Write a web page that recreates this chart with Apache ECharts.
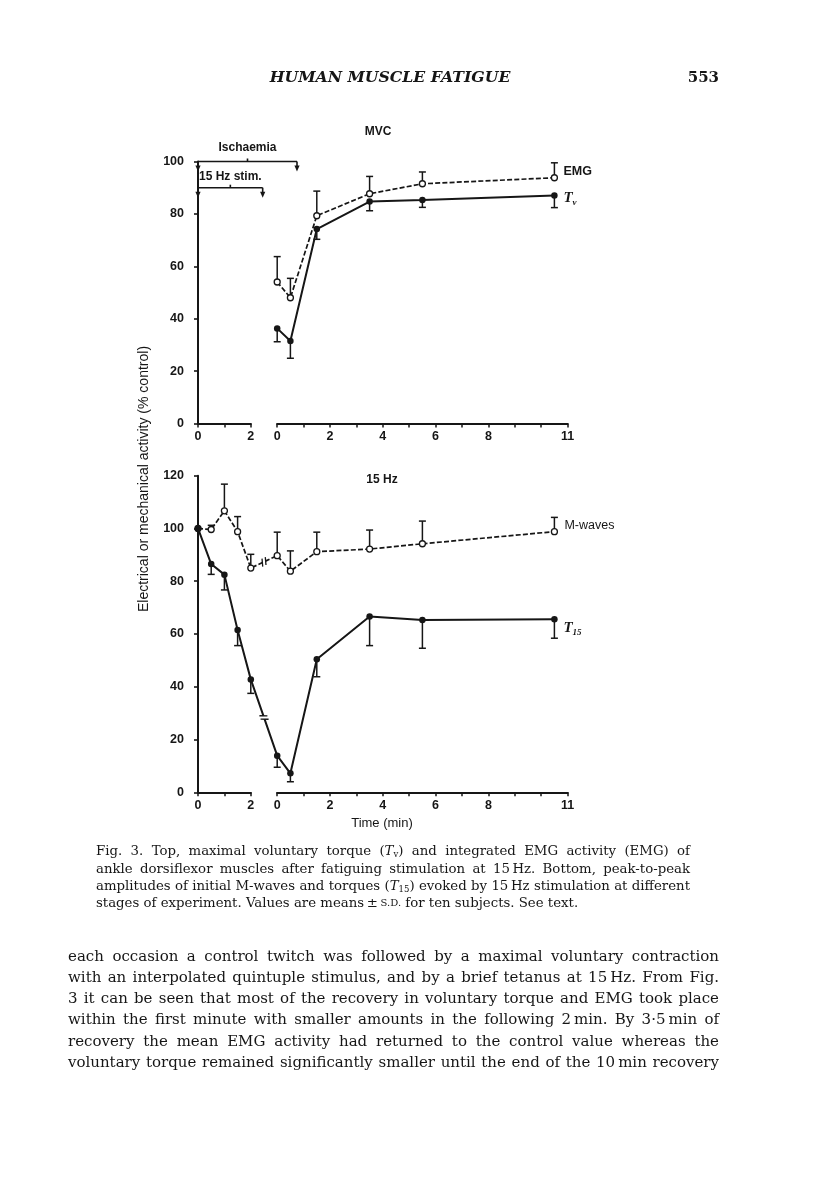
<!DOCTYPE html>
<html lang="en">
<head>
  <meta charset="UTF-8">
  <title>Human muscle fatigue - Fig. 3</title>
  <script src="https://cdn.jsdelivr.net/npm/echarts@6/dist/echarts.min.js"></script>
  <style>
    html, body { margin: 0; padding: 0; background: #fff; }
    #chart { width: 816px; height: 1183px; }
  </style>
</head>
<body>
  <div id="chart"></div>
  <script>
    // time points (min)
    const fatigueTimes = [0, 0.5, 1, 1.5, 2];
    const recoveryTimes = [0, 0.5, 1.5, 3.5, 5.5, 10.5];

    // top panel (MVC): means and the drawn end of each s.d. bar
    const emgMean = [54, 48, 79.3, 87.7, 91.5, 93.8];
    const emgUpper = [63.7, 55.4, 88.7, 94.3, 96, 99.5];
    const tvMean = [36.3, 31.5, 74.2, 84.7, 85.3, 87];
    const tvLower = [31.2, 24.9, 70.3, 81.2, 82.5, 82.4];

    // bottom panel (15 Hz)
    const mwaveFatigue = [100, 99.6, 106.7, 98.8, 85];
    const mwaveFatigueUpper = [null, 101.2, 116.8, 104.5, 90.2];
    const mwaveRecovery = [89.7, 83.8, 91.2, 92.2, 94.2, 98.8];
    const mwaveRecoveryUpper = [98.6, 91.5, 98.6, 99.4, 102.8, 104.2];
    const t15Fatigue = [100, 86.5, 82.5, 61.5, 42.8];
    const t15FatigueLower = [null, 82.6, 76.7, 55.6, 37.5];
    const t15Recovery = [13.9, 7.2, 50.4, 66.6, 65.3, 65.6];
    const t15RecoveryLower = [9.5, 4, 43.8, 55.6, 54.6, 58.4];

    // tick labels
    const fatigueTickLabels = [0, 2];
    const recoveryTickLabels = [0, 2, 4, 6, 8, 11];
    const mvcMax = 100;
    const hzMax = 120;

    // bars above the top panel: [start, end] in plot minutes
    const ischaemiaSpan = [0, 3.75];
    const stimSpan = [0, 2.45];

    const captionLines = [
      'Fig. 3. Top, maximal voluntary torque ({i|T}{sub|v}) and integrated EMG activity (EMG) of',
      'ankle dorsiflexor muscles after fatiguing stimulation at 15\u2009Hz. Bottom, peak-to-peak',
      'amplitudes of initial M-waves and torques ({i|T}{sub|15}) evoked by 15\u2009Hz stimulation at different',
      'stages of experiment. Values are means\u2009\u00b1\u2009{sc|S.D.} for ten subjects. See text.'
    ];
    const bodyLines = [
      'each occasion a control twitch was followed by a maximal voluntary contraction',
      'with an interpolated quintuple stimulus, and by a brief tetanus at 15\u2009Hz. From Fig.',
      '3 it can be seen that most of the recovery in voluntary torque and EMG took place',
      'within the first minute with smaller amounts in the following 2\u2009min. By 3\u00b75\u2009min of',
      'recovery the mean EMG activity had returned to the control value whereas the',
      'voluntary torque remained significantly smaller until the end of the 10\u2009min recovery'
    ];

    const INK = '#161616';
    const REC0 = 3;      // recovery minute 0 sits 3 plot minutes after fatigue start
    const SPAN = 14;     // plot minutes across the panel
    const PPM = 26.4;    // pixels per minute
    const LEFT = 198;

    const panels = [
      { top: 161.5, height: 262, max: mvcMax },
      { top: 475.7, height: 316.6, max: hzMax }
    ];

    const tickFont = { fontFamily: 'Liberation Sans', fontWeight: 'bold', fontSize: 12.5, color: INK };

    const grids = [], xAxes = [], yAxes = [];
    panels.forEach(p => {
      const g = grids.length;
      grids.push({ left: LEFT, top: p.top, width: SPAN * PPM, height: p.height });
      grids.push({ left: LEFT, top: p.top, width: 2 * PPM, height: p.height });
      grids.push({ left: LEFT + REC0 * PPM, top: p.top, width: 11 * PPM, height: p.height });
      xAxes.push({ type: 'value', gridIndex: g, min: 0, max: SPAN, show: false });
      xAxes.push(visibleX(g + 1, 2, fatigueTickLabels));
      xAxes.push(visibleX(g + 2, 11, recoveryTickLabels));
      yAxes.push({
        type: 'value', gridIndex: g, min: 0, max: p.max, interval: 20, offset: 8,
        axisLine: { show: true, lineStyle: { color: INK, width: 2 } },
        axisTick: { show: true, length: 4, lineStyle: { color: INK, width: 1.6 } },
        axisLabel: Object.assign({ margin: 6 }, tickFont),
        splitLine: { show: false }
      });
      yAxes.push({ type: 'value', gridIndex: g + 1, min: 0, max: p.max, show: false });
      yAxes.push({ type: 'value', gridIndex: g + 2, min: 0, max: p.max, show: false });
    });

    function visibleX(gridIndex, max, labels) {
      return {
        type: 'value', gridIndex, min: 0, max, interval: 1,
        axisLine: { show: true, lineStyle: { color: INK, width: 2 } },
        axisTick: { show: true, length: 4, lineStyle: { color: INK, width: 1.5 } },
        axisLabel: Object.assign({
          margin: 7, showMinLabel: true, showMaxLabel: true,
          formatter: v => labels.includes(v) ? String(v) : ''
        }, tickFont),
        splitLine: { show: false }
      };
    }

    const pairs = (times, vals, shift) => times.map((t, i) => [t + shift, vals[i]]);
    const bars = (times, vals, ends, shift) =>
      times.map((t, i) => [t + shift, vals[i], ends[i]]).filter(d => d[2] != null);

    function lineSeries(name, axis, data, open) {
      return {
        type: 'line', name, xAxisIndex: axis, yAxisIndex: axis, data, z: 3,
        symbol: 'circle', symbolSize: open ? 6 : 6.5,
        itemStyle: open ? { color: '#fff', borderColor: INK, borderWidth: 1.3 } : { color: INK },
        lineStyle: open ? { color: INK, width: 1.7, type: [5, 2.2] } : { color: INK, width: 2 },
        animation: false, silent: true
      };
    }

    function errorSeries(axis, data) {
      return {
        type: 'custom', xAxisIndex: axis, yAxisIndex: axis, data, z: 2, silent: true, animation: false,
        renderItem(params, api) {
          const a = api.coord([api.value(0), api.value(1)]);
          const b = api.coord([api.value(0), api.value(2)]);
          const st = { stroke: INK, lineWidth: 1.5 };
          return {
            type: 'group', children: [
              { type: 'line', shape: { x1: a[0], y1: a[1], x2: b[0], y2: b[1] }, style: st },
              { type: 'line', shape: { x1: b[0] - 3.5, y1: b[1], x2: b[0] + 3.5, y2: b[1] }, style: st }
            ]
          };
        }
      };
    }

    // break mark halfway between the last fatigue point and the first recovery point
    function breakSeries(axis, data) {
      return {
        type: 'custom', xAxisIndex: axis, yAxisIndex: axis, data, z: 4, silent: true, animation: false,
        renderItem(params, api) {
          const a = api.coord([api.value(0), api.value(1)]);
          const b = api.coord([api.value(2), api.value(3)]);
          const mx = (a[0] + b[0]) / 2, my = (a[1] + b[1]) / 2;
          const len = Math.hypot(b[0] - a[0], b[1] - a[1]);
          const ux = (b[0] - a[0]) / len, uy = (b[1] - a[1]) / len;
          const th = -70 * Math.PI / 180;
          const sx = Math.cos(th) * ux - Math.sin(th) * uy, sy = Math.sin(th) * ux + Math.cos(th) * uy;
          const kids = [{ type: 'line', shape: { x1: mx - ux * 1.8, y1: my - uy * 1.8, x2: mx + ux * 1.8, y2: my + uy * 1.8 },
            style: { stroke: '#fff', lineWidth: 5 } }];
          [-1.8, 1.8].forEach(o => {
            const cx = mx + ux * o, cy = my + uy * o;
            kids.push({ type: 'line', shape: { x1: cx - sx * 4, y1: cy - sy * 4, x2: cx + sx * 4, y2: cy + sy * 4 },
              style: { stroke: INK, lineWidth: 1.3 } });
          });
          return { type: 'group', children: kids };
        }
      };
    }

    const mwaveLine = pairs(fatigueTimes, mwaveFatigue, 0).concat(pairs(recoveryTimes, mwaveRecovery, REC0));
    const t15Line = pairs(fatigueTimes, t15Fatigue, 0).concat(pairs(recoveryTimes, t15Recovery, REC0));
    const lastF = fatigueTimes.length - 1;

    const series = [
      errorSeries(0, bars(recoveryTimes, emgMean, emgUpper, REC0)),
      errorSeries(0, bars(recoveryTimes, tvMean, tvLower, REC0)),
      lineSeries('EMG', 0, pairs(recoveryTimes, emgMean, REC0), true),
      lineSeries('Tv', 0, pairs(recoveryTimes, tvMean, REC0), false),
      errorSeries(3, bars(fatigueTimes, mwaveFatigue, mwaveFatigueUpper, 0)
        .concat(bars(recoveryTimes, mwaveRecovery, mwaveRecoveryUpper, REC0))),
      errorSeries(3, bars(fatigueTimes, t15Fatigue, t15FatigueLower, 0)
        .concat(bars(recoveryTimes, t15Recovery, t15RecoveryLower, REC0))),
      lineSeries('M-waves', 3, mwaveLine, true),
      lineSeries('T15', 3, t15Line, false),
      breakSeries(3, [
        [fatigueTimes[lastF], mwaveFatigue[lastF], REC0 + recoveryTimes[0], mwaveRecovery[0]],
        [fatigueTimes[lastF], t15Fatigue[lastF], REC0 + recoveryTimes[0], t15Recovery[0]]
      ])
    ];

    const chart = echarts.init(document.getElementById('chart'), null, { renderer: 'canvas' });
    chart.setOption({
      backgroundColor: '#fff',
      animation: false,
      grid: grids,
      xAxis: xAxes,
      yAxis: yAxes,
      series
    });

    // ---------- annotations ----------
    const px = (g, u, v) => chart.convertToPixel({ gridIndex: g }, [u, v]);
    const sans = (size, weight) => ({ fontFamily: 'Liberation Sans', fontSize: size, fontWeight: weight || 'normal', fill: INK });
    const text = (x, y, str, st, align) => ({
      type: 'text', x, y, silent: true,
      style: Object.assign({ text: str, align: align || 'center', verticalAlign: 'middle' }, st)
    });

    function bracket(span, level, label, labelDy) {
      const p0 = px(0, span[0], level), p1 = px(0, span[1], level);
      const y = p0[1], mid = (p0[0] + p1[0]) / 2;
      const st = { stroke: INK, lineWidth: 1.6 };
      const els = [
        { type: 'line', shape: { x1: p0[0], y1: y, x2: p1[0], y2: y }, style: st },
        { type: 'line', shape: { x1: mid, y1: y, x2: mid, y2: y - 3 }, style: st },
        text(mid, y + labelDy, label, sans(12, 'bold'))
      ];
      [p0[0], p1[0]].forEach(x => {
        els.push({ type: 'line', shape: { x1: x, y1: y, x2: x, y2: y + 5 }, style: st });
        els.push({ type: 'polygon', shape: { points: [[x - 2.6, y + 4], [x + 2.6, y + 4], [x, y + 10]] }, style: { fill: INK } });
      });
      return els;
    }

    const tRich = {
      t: { fontFamily: 'Liberation Serif', fontStyle: 'italic', fontWeight: 'bold', fontSize: 15, lineHeight: 18, fill: INK },
      s: { fontFamily: 'Liberation Serif', fontStyle: 'italic', fontWeight: 'bold', fontSize: 9, lineHeight: 8, verticalAlign: 'bottom', fill: INK }
    };
    function endLabel(g, pt, dx, dy, str, st) {
      const p = px(g, pt[0], pt[1]);
      return text(p[0] + dx, p[1] + dy, str, st, 'left');
    }

    // justified text blocks, one element per word
    const measure = document.createElement('canvas').getContext('2d');
    function pieces(word) {
      const out = [], re = /\{(\w+)\|([^}]*)\}/g;
      let last = 0, m;
      while ((m = re.exec(word))) {
        if (m.index > last) out.push(['', word.slice(last, m.index)]);
        out.push([m[1], m[2]]);
        last = re.lastIndex;
      }
      if (last < word.length) out.push(['', word.slice(last)]);
      return out;
    }
    function fontOf(block, key) {
      const s = Object.assign({}, block.style, key ? block.rich[key] : {});
      return (s.fontStyle || 'normal') + ' ' + (s.fontWeight || 'normal') + ' ' + s.fontSize + 'px ' + s.fontFamily;
    }
    function wordWidth(block, word) {
      return pieces(word).reduce((w, p) => {
        measure.font = fontOf(block, p[0]);
        return w + measure.measureText(p[1]).width;
      }, 0);
    }
    function justify(block) {
      const els = [];
      measure.font = fontOf(block, '');
      const space = measure.measureText(' ').width;
      block.lines.forEach((line, i) => {
        const words = line.split(' ');
        const widths = words.map(w => wordWidth(block, w));
        const total = widths.reduce((a, b) => a + b, 0);
        const ragged = i === block.lines.length - 1 && !block.justifyLast;
        const gap = ragged ? space : (block.x1 - block.x0 - total) / (words.length - 1);
        let x = block.x0;
        words.forEach((w, j) => {
          els.push({
            type: 'text', x, y: block.y0 + i * block.lineHeight, silent: true,
            style: Object.assign({ text: w, align: 'left', verticalAlign: 'middle', rich: block.rich }, block.style)
          });
          x += widths[j] + gap;
        });
      });
      return els;
    }

    const serif = 'DejaVu Serif';
    const caption = {
      lines: captionLines, x0: 96, x1: 690, y0: 852, lineHeight: 17.2, justifyLast: false,
      style: { fontFamily: serif, fontSize: 13.3, lineHeight: 15, fill: INK },
      rich: {
        i: { fontFamily: serif, fontStyle: 'italic', fontSize: 13.3, lineHeight: 15, fill: INK },
        sub: { fontFamily: serif, fontSize: 8.5, lineHeight: 9, verticalAlign: 'bottom', fill: INK },
        sc: { fontFamily: serif, fontSize: 10, lineHeight: 15, fill: INK }
      }
    };
    const body = {
      lines: bodyLines, x0: 68, x1: 719, y0: 957, lineHeight: 21.2, justifyLast: true,
      style: { fontFamily: serif, fontSize: 15, lineHeight: 18, fill: INK },
      rich: {}
    };

    const lastR = recoveryTimes.length - 1;
    const elements = [
      text(390, 78, 'HUMAN MUSCLE FATIGUE', { fontFamily: serif, fontStyle: 'italic', fontWeight: 'bold', fontSize: 15.7, fill: INK }),
      text(719, 78, '553', { fontFamily: serif, fontWeight: 'bold', fontSize: 15, fill: INK }, 'right'),
      text(378, 131.5, 'MVC', sans(12, 'bold')),
      text(382, 480, '15 Hz', sans(12, 'bold')),
      text(382, 823, 'Time (min)', sans(13)),
      Object.assign(text(144, 479, 'Electrical or mechanical activity (% control)', sans(14)), { rotation: Math.PI / 2 }),
      endLabel(0, [REC0 + recoveryTimes[lastR], emgMean[lastR]], 9, -6, 'EMG', sans(12.5, 'bold')),
      endLabel(0, [REC0 + recoveryTimes[lastR], tvMean[lastR]], 9, 3, '{t|T}{s|v}', { rich: tRich }),
      endLabel(3, [REC0 + recoveryTimes[lastR], mwaveRecovery[lastR]], 10, -6.5, 'M-waves', sans(12.5)),
      endLabel(3, [REC0 + recoveryTimes[lastR], t15Recovery[lastR]], 9, 9, '{t|T}{s|15}', { rich: tRich })
    ]
      .concat(bracket(ischaemiaSpan, 100, 'Ischaemia', -14))
      .concat(bracket(stimSpan, 90, '15 Hz stim.', -11.5))
      .concat(justify(caption))
      .concat(justify(body));

    chart.setOption({ graphic: { elements } });
  </script>
</body>
</html>
